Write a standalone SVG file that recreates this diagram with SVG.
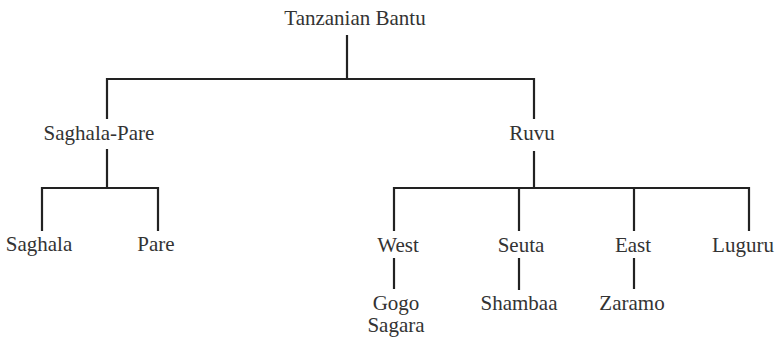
<svg xmlns="http://www.w3.org/2000/svg" width="775" height="338" viewBox="0 0 775 338">
<style>
text{font-family:"Liberation Serif","DejaVu Serif",serif;font-size:21px;fill:#333;text-anchor:middle}
.c line,.c path{stroke:#222;stroke-width:2.2;fill:none}
</style>
<rect width="775" height="338" fill="#fff"/>
<g class="c" id="connectors">
<line x1="347" y1="35" x2="347" y2="79"/>
<path d="M107,119 V79 H534 V119"/>
<line x1="107" y1="149" x2="107" y2="188"/>
<path d="M42,231 V188 H158 V231"/>
<line x1="534" y1="151" x2="534" y2="188"/>
<path d="M394,231 V188 H749 V231"/>
<line x1="519" y1="188" x2="519" y2="231"/>
<line x1="634" y1="188" x2="634" y2="231"/>
<line x1="394" y1="258" x2="394" y2="289"/>
<line x1="519" y1="258" x2="519" y2="290"/>
<line x1="634" y1="258" x2="634" y2="289"/>
</g>
<g id="n-root"><text x="355" y="25">Tanzanian Bantu</text></g>
<g id="n-saghala-pare"><text x="99" y="140">Saghala-Pare</text></g>
<g id="n-ruvu"><text x="532" y="140">Ruvu</text></g>
<g id="n-saghala"><text x="39" y="251">Saghala</text></g>
<g id="n-pare"><text x="156" y="251">Pare</text></g>
<g id="n-west"><text x="398" y="252">West</text></g>
<g id="n-seuta"><text x="521" y="252">Seuta</text></g>
<g id="n-east"><text x="633" y="252">East</text></g>
<g id="n-luguru"><text x="743" y="252">Luguru</text></g>
<g id="n-gogo"><text x="396" y="310">Gogo</text><text x="396" y="332">Sagara</text></g>
<g id="n-shambaa"><text x="519" y="310">Shambaa</text></g>
<g id="n-zaramo"><text x="632" y="310">Zaramo</text></g>
</svg>
